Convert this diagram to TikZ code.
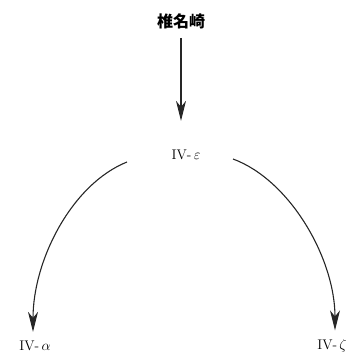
\documentclass[tikz,border=0pt]{standalone}
\usepackage{fontspec}
\newfontfamily\cjk{Noto Sans CJK JP}
\usetikzlibrary{arrows.meta}
\begin{document}
\begin{tikzpicture}[x=1pt,y=-1pt,
  lbl/.style={inner sep=1pt,font=\fontsize{14}{16}\selectfont},
  arr/.style={line width=1.1pt,color=black!85,-{Stealth[length=20pt,width=10pt,inset=6pt]}}]
\useasboundingbox (0,0) rectangle (356,355);
\node[lbl] (top) at (181,21) {\cjk\bfseries\fontsize{16}{18}\selectfont 椎名崎};
\node[lbl] (mid) at (186,155) {IV-\,$\varepsilon$};
\node[lbl] (a) at (35,346) {IV-\,$\alpha$};
\node[lbl] (z) at (332,346) {IV-\,$\zeta$};
\coordinate (lstart) at (127,162);
\coordinate (rstart) at (233,159);
\draw[arr,shorten <=8pt,shorten >=28pt] (top.south) -- (top.south |- mid.north);
\draw[arr,shorten >=8pt] (lstart) .. controls +(-55,22) and +(0,-80) .. (a.north -| 33,0) ;
\draw[arr,shorten >=8pt] (rstart) .. controls +(57,21) and +(0,-80) .. (z.north -| 335,0);
\end{tikzpicture}
\end{document}
